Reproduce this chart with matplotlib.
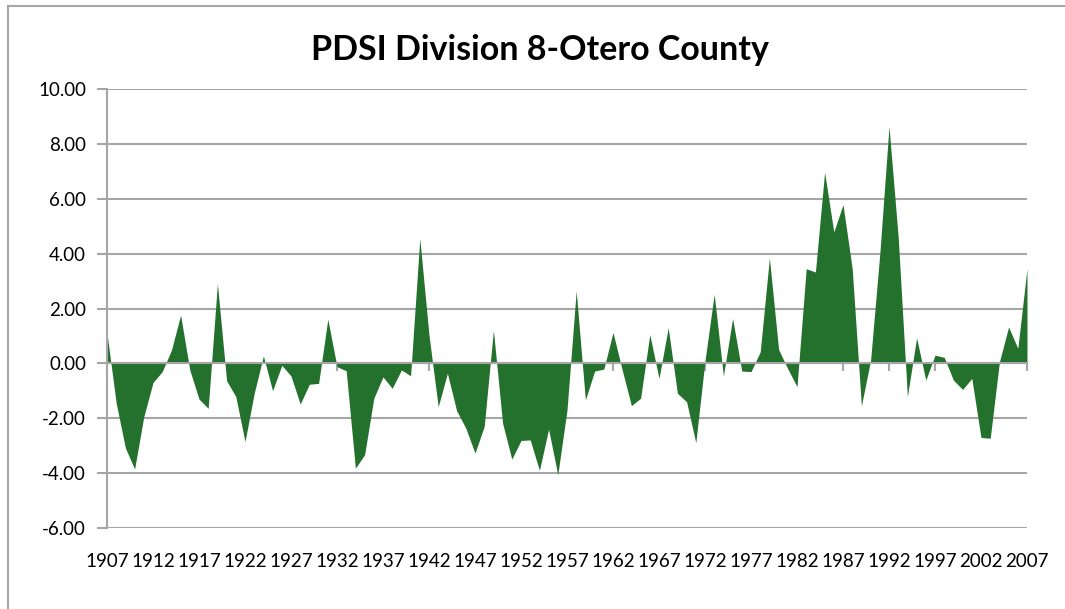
import matplotlib.pyplot as plt
from matplotlib.lines import Line2D

plt.rcParams['font.family'] = ['Lato', 'DejaVu Sans']

# PDSI values, one per year 1907-2007
years = list(range(1907, 2008))
pdsi = [
    1.09, -1.45, -3.08, -3.85, -1.94, -0.70, -0.30, 0.48, 1.76, -0.24,   # 1907-1916
    -1.30, -1.64, 2.91, -0.63, -1.21, -2.85, -1.09, 0.27, -1.00, -0.07,  # 1917-1926
    -0.46, -1.48, -0.76, -0.73, 1.61, -0.12, -0.27, -3.82, -3.33, -1.27, # 1927-1936
    -0.49, -0.91, -0.24, -0.45, 4.55, 1.03, -1.58, -0.36, -1.72, -2.36,  # 1937-1946
    -3.27, -2.30, 1.21, -2.18, -3.49, -2.81, -2.79, -3.90, -2.40, -4.06, # 1947-1956
    -1.70, 2.64, -1.33, -0.28, -0.21, 1.13, -0.24, -1.54, -1.27, 1.05,   # 1957-1966
    -0.55, 1.30, -1.09, -1.40, -2.89, 0.10, 2.52, -0.46, 1.64, -0.28,    # 1967-1976
    -0.30, 0.42, 3.84, 0.51, -0.20, -0.85, 3.45, 3.33, 6.97, 4.79,       # 1977-1986
    5.79, 3.45, -1.55, 0.12, 4.00, 8.63, 4.60, -1.21, 0.93, -0.61,       # 1987-1996
    0.30, 0.22, -0.61, -0.95, -0.55, -2.70, -2.73, 0.05, 1.33, 0.55,     # 1997-2006
    3.45,                                                                # 2007
]
label_years = years[::5]
y_ticks = [-6, -4, -2, 0, 2, 4, 6, 8, 10]

grid_col = '#a6a6a6'
fill_col = '#24712d'

fig = plt.figure(figsize=(10.65, 6.09), dpi=100)
W, H = 1065, 609
ax = fig.add_axes([107 / W, (H - 528) / H, 920 / W, 439 / H])

ax.fill_between(years, pdsi, 0, color=fill_col, linewidth=0, zorder=2)

ax.set_xlim(1907, 2007)
ax.set_ylim(-6, 10)
ax.set_yticks(y_ticks)
ax.set_yticklabels([f'{v:.2f}' for v in y_ticks])
ax.yaxis.grid(True, color=grid_col, linewidth=1.5, zorder=0)
ax.set_axisbelow(True)

for s in ['top', 'right']:
    ax.spines[s].set_visible(False)
ax.spines['left'].set_color(grid_col)
ax.spines['left'].set_linewidth(1.5)
ax.spines['bottom'].set_position(('data', 0))
ax.spines['bottom'].set_color(grid_col)
ax.spines['bottom'].set_linewidth(1.5)
ax.spines['bottom'].set_zorder(3)

ax.tick_params(axis='y', length=7, width=1.5, color=grid_col, labelsize=13.5, pad=8)
ax.set_xticks(label_years)
ax.tick_params(axis='x', length=6, width=1.5, color=grid_col, labelbottom=False)

# category labels sit below the plot, not on the zero line
sec = ax.secondary_xaxis(0)
sec.set_xticks(label_years)
sec.set_xticklabels([str(y) for y in label_years])
sec.tick_params(length=0, labelsize=13.5, pad=18)
sec.spines['bottom'].set_visible(False)

fig.text(540 / W, 1 - 50 / H, 'PDSI Division 8-Otero County',
         ha='center', va='center', fontsize=24.5, fontweight='bold')

# chart area border
fig.add_artist(Line2D([8 / W, 1.0], [1 - 6 / H, 1 - 6 / H], color=grid_col, linewidth=1.5))
fig.add_artist(Line2D([8 / W, 8 / W], [0.0, 1 - 6 / H], color=grid_col, linewidth=1.5))

fig.savefig('out.png', dpi=100)
